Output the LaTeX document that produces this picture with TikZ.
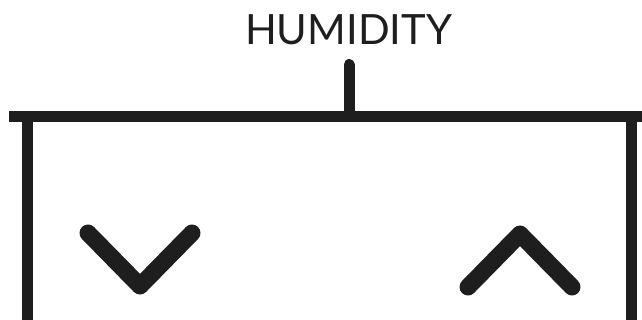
\documentclass[tikz,border=0pt]{standalone}
\usepackage{fontspec}
\setmainfont{Lato}
\definecolor{ink}{RGB}{30,30,30}
\begin{document}
\begin{tikzpicture}[x=1pt,y=-1pt,
  bar/.style={line width=11.5pt, color=ink},
  stem/.style={line width=11pt, color=ink},
  chev/.style={line width=17pt, color=ink, line cap=round, line join=round}]
\useasboundingbox (0,0) rectangle (642,320);
\node[font=\fontsize{41.7}{50}\selectfont, inner sep=0, anchor=base, text=ink] (title) at (348.5,45) {HUMIDITY};
\coordinate (stemtop) at (349,64.5);
\coordinate (stemfoot) at (349,116.5);
\coordinate (barL) at (9,116.5);
\coordinate (barR) at (642,116.5);
\coordinate (legLtop) at (27,116.5);
\coordinate (legLbot) at (27,320);
\coordinate (legRtop) at (631,116.5);
\coordinate (legRbot) at (631,320);
\draw[stem, line cap=round] (stemfoot) -- (stemtop);
\draw[bar] (barL) -- (barR);
\draw[stem] (legLtop) -- (legLbot);
\draw[stem] (legRtop) -- (legRbot);
\coordinate (dl) at (88,233);
\coordinate (dv) at (140,286);
\coordinate (dr) at (192,233);
\coordinate (ul) at (468,287);
\coordinate (uv) at (520,234);
\coordinate (ur) at (572,287);
\draw[chev] (dl) -- (dv) -- (dr);
\draw[chev] (ul) -- (uv) -- (ur);
\end{tikzpicture}
\end{document}
